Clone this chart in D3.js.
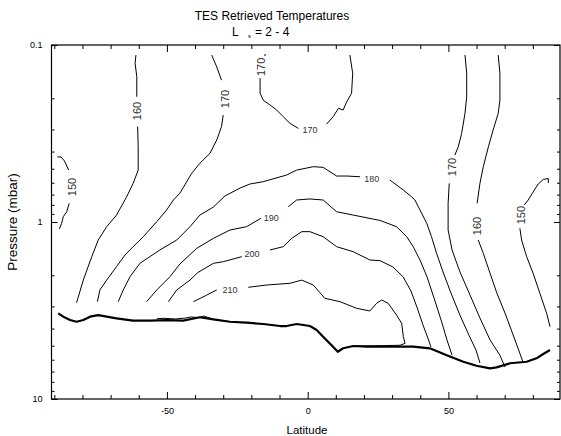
<!DOCTYPE html>
<html><head><meta charset="utf-8">
<script src="https://cdn.jsdelivr.net/npm/d3@7"></script>
<style>
body{margin:0;background:#fff}
svg{display:block}
text{font-family:"Liberation Sans",Arial,Helvetica,sans-serif}
</style>
</head><body>
<svg id="chart" width="561" height="436"></svg>
<script>
// ---- data (latitude in degrees, pressure in mbar) ----
const latMinor = [-90,-80,-70,-60,-40,-30,-20,-10,10,20,30,40,60,70,80,90];
const latMajor = [-50,0,50];
const pMajor = [0.1,1,10];
const pMinor = [0.2,0.3,0.4,0.5,0.6,0.7,0.8,0.9,2,3,4,5,6,7,8,9];

const c150L_a = [[-88.9,0.429],[-87.6,0.429],[-86.4,0.452],[-84.9,0.509]];
const c150L_b = [[-84.7,0.784],[-85.6,0.875],[-86.8,0.933],[-87.4,1.017],[-88.2,1.095]];
const c160L_a = [[-61.0,0.114],[-61.3,0.127],[-60.7,0.151],[-60.7,0.196]];
const c160L_b = [[-60.4,0.289],[-60.2,0.376],[-60.2,0.509],[-62.0,0.605],[-64.3,0.72],[-67.9,0.914],[-71.4,1.063],[-74.4,1.264],[-76.7,1.57],[-79.7,2.13],[-82.1,2.86]];
const c170L_a = [[-34.1,0.114],[-32.3,0.133],[-30.6,0.158]];
const c170L_b = [[-30.0,0.249],[-30.6,0.289],[-32.3,0.344],[-34.7,0.409],[-38.3,0.466],[-41.2,0.531],[-45.4,0.688],[-47.7,0.751],[-50.1,0.855],[-53.6,0.996],[-58.4,1.211],[-62.0,1.379],[-64.9,1.537],[-67.9,1.788],[-71.4,2.13],[-73.8,2.42],[-74.7,2.82]];
const c170T_a = [[-15.1,0.1125],[-15.2,0.1155]];
const c170T_b = [[-16.9,0.154],[-16.9,0.187],[-15.8,0.205],[-13.4,0.218],[-11.0,0.233],[-8.7,0.254],[-6.3,0.277],[-3.3,0.296]];
const c170T_c = [[6.7,0.280],[9.1,0.254],[10.9,0.228],[12.6,0.233],[13.9,0.209],[15.6,0.1875],[16.0,0.1445],[15.0,0.114]];
const c180_a = [[-67.3,2.82],[-65.5,2.42],[-63.1,2.037],[-59.6,1.712],[-52.5,1.439],[-46.5,1.264],[-41.8,1.063],[-38.3,0.914],[-33.5,0.824],[-29.4,0.713],[-24.0,0.643],[-20.5,0.610],[-15.8,0.592],[-7.5,0.543],[-3.9,0.509],[2.0,0.487],[5.5,0.491],[10.3,0.550],[13.9,0.550],[18.6,0.555]];
const c180_b = [[29.2,0.579],[34.0,0.660],[36.9,0.72],[38.1,0.751],[39.9,0.855],[42.3,1.017],[44.0,1.211],[45.8,1.503],[48.1,1.915],[50.9,2.518],[54.1,3.36],[57.3,4.36],[59.8,5.29],[61.2,6.26]];
const c190_a = [[-57.2,2.82],[-53.6,2.42],[-48.9,2.037],[-45.4,1.727],[-39.4,1.408],[-33.5,1.237],[-27.6,1.110],[-21.7,1.063],[-16.6,0.953]];
const c190_b = [[-6.9,0.820],[-3.9,0.751],[0.8,0.741],[5.5,0.751],[10.3,0.875],[16.2,0.914],[25.7,0.980],[31.6,1.063],[35.2,1.211],[37.5,1.379],[39.9,1.639],[42.4,2.04],[44.9,2.69],[47.4,3.58],[49.5,4.64],[51.3,5.66]];
const c200_a = [[-49.5,2.82],[-46.5,2.42],[-41.8,2.13],[-39.0,1.929],[-33.5,1.712],[-30.0,1.676],[-23.4,1.57]];
const c200_b = [[-13.4,1.439],[-8.7,1.379],[-5.7,1.237],[-2.1,1.134],[0.8,1.134],[5.5,1.211],[10.3,1.379],[16.2,1.472],[22.1,1.639],[25.7,1.654],[30.3,1.796],[33.9,2.04],[36.7,2.454],[38.8,3.02],[41.0,3.83],[42.7,4.52],[43.8,5.08]];
const c210_a = [[-40.6,2.82],[-35.9,2.59],[-32.3,2.42]];
const c210_b = [[-21.1,2.338],[-14.6,2.27],[-6.3,2.22],[-2.1,2.13],[2.0,2.27],[6.1,2.698],[11.5,2.82],[17.4,3.073],[22.1,3.183],[24.5,2.88],[26.3,2.758],[28.6,2.88],[31.6,3.36],[33.4,3.736],[34.0,4.446],[34.6,4.85],[32.8,4.97],[25.7,5.0],[16.2,5.02]];
const c210_c = [[-53.6,3.52],[-51.0,3.50],[-47.0,3.53],[-43.5,3.49],[-41.5,3.44],[-38.5,3.47],[-37.0,3.40],[-34.5,3.50]];
const c170R_a = [[55.9,0.114],[56.5,0.1445],[56.5,0.196],[55.9,0.243],[54.7,0.316],[53.5,0.376],[52.3,0.419]];
const c170R_b = [[50.3,0.605],[49.9,0.784],[49.9,1.110],[51.3,1.439],[54.1,1.915],[57.7,2.59],[61.2,3.486],[64.8,4.64],[68.3,5.66],[70.1,6.60]];
const c160R_a = [[67.7,0.114],[68.3,0.1445],[68.3,0.2046],[67.7,0.243],[65.9,0.302],[64.2,0.376],[62.4,0.487],[61.2,0.605],[60.2,0.784]];
const c160R_b = [[60.6,1.264],[62.4,1.503],[64.8,1.949],[67.2,2.518],[70.1,3.267],[72.6,4.18],[74.7,5.15],[76.5,6.18]];
const c150R_a = [[85.5,0.602],[85.5,0.568],[83.7,0.575],[81.9,0.610],[80.1,0.677],[78.1,0.761],[76.9,0.802]];
const c150R_b = [[75.4,1.085],[76.0,1.264],[77.8,1.57],[80.1,1.949],[82.5,2.53],[84.9,3.28],[86.1,3.905]];
const surface = [[-88.6,3.28],[-86.8,3.428],[-84.4,3.58],[-82.1,3.66],[-79.7,3.58],[-77.3,3.428],[-74.4,3.36],[-71.4,3.428],[-67.9,3.50],[-62.0,3.61],[-56.0,3.61],[-50.1,3.58],[-44.2,3.61],[-38.3,3.454],[-33.5,3.546],[-27.6,3.66],[-21.7,3.707],[-15.8,3.77],[-9.8,3.87],[-7.5,3.87],[-3.9,3.77],[0.8,3.87],[3.2,4.075],[5.5,4.446],[8.5,4.97],[10.7,5.41],[12.6,5.17],[16.2,5.02],[21.0,5.065],[29.2,5.065],[37.5,5.065],[43.4,5.17],[49.4,5.66],[55.3,6.16],[60.0,6.49],[64.8,6.71],[67.1,6.63],[71.9,6.28],[77.8,6.16],[81.3,5.89],[83.7,5.57],[86.1,5.29]];

const contourPieces = [c150L_a,c150L_b,c160L_a,c160L_b,c170L_a,c170L_b,c170T_a,c170T_b,c170T_c,
  c180_a,c180_b,c190_a,c190_b,c200_a,c200_b,c210_a,c210_b,c210_c,c170R_a,c170R_b,c160R_a,c160R_b,c150R_a,c150R_b];

const labelText = ["150","160","170","170","170","180","190","200","210","170","160","150"];
const labelLat  = [-83.6,-60.7,-29.4,-16.4,0.8,22.8,-12.9,-19.8,-27.6,51.2,60.1,75.8];
const labelP    = [0.634,0.236,0.202,0.133,0.302,0.572,0.943,1.506,2.42,0.489,1.053,0.914];
const labelVertical = [true,true,true,true,false,false,false,false,false,true,true,true];

// ---- chart ----
const svg = d3.select("#chart");
const L = 51.5, R = 560, T = 45, B = 399;
const x = d3.scaleLinear().domain([-91, 90]).range([51.5, 561]);
const y = d3.scaleLog().domain([0.1, 10]).range([T, B]);

const line = d3.line().x(d => x(d[0])).y(d => y(d[1]));

const g = svg.append("g");
contourPieces.forEach(pc => {
  g.append("path").attr("d", line(pc)).attr("fill","none").attr("stroke","#000").attr("stroke-width",1);
});
g.append("path").attr("d", line(surface)).attr("fill","none").attr("stroke","#000").attr("stroke-width",2.2).attr("stroke-linejoin","round");

labelText.forEach((t,i) => {
  const vx = x(labelLat[i]), vy = y(labelP[i]);
  g.append("text").text(t)
    .attr("transform", `translate(${vx},${vy}) rotate(${labelVertical[i] ? -90 : 0})`)
    .attr("text-anchor","middle").attr("dy","0.35em")
    .attr("font-size", labelVertical[i] ? 11 : 9)
    .attr("fill","#333");
});

// axes
function styleAxis(sel){
  sel.select(".domain").remove();
  sel.selectAll("line").attr("stroke","#000");
  sel.selectAll("text").attr("fill","#000").attr("font-family",'"Liberation Sans",Arial,sans-serif');
}
const fmt = d => String(d);
svg.append("g").attr("transform",`translate(0,${B})`)
  .call(d3.axisBottom(x).tickValues(latMinor).tickSize(-4).tickFormat("")).call(styleAxis);
svg.append("g").attr("transform",`translate(0,${B})`)
  .call(d3.axisBottom(x).tickValues(latMajor).tickSize(-7).tickPadding(9).tickFormat(fmt))
  .call(styleAxis).selectAll("text").attr("font-size",9);
svg.append("g").attr("transform",`translate(0,${T})`)
  .call(d3.axisTop(x).tickValues(latMinor).tickSize(-4).tickFormat("")).call(styleAxis);
svg.append("g").attr("transform",`translate(0,${T})`)
  .call(d3.axisTop(x).tickValues(latMajor).tickSize(-7).tickFormat("")).call(styleAxis);
svg.append("g").attr("transform",`translate(${L},0)`)
  .call(d3.axisLeft(y).tickValues(pMinor).tickSize(-3).tickFormat("")).call(styleAxis);
svg.append("g").attr("transform",`translate(${L},0)`)
  .call(d3.axisLeft(y).tickValues(pMajor).tickSize(-6).tickPadding(9).tickFormat(fmt))
  .call(styleAxis).selectAll("text").attr("font-size",9);
svg.append("g").attr("transform",`translate(${R},0)`)
  .call(d3.axisRight(y).tickValues(pMinor).tickSize(-3).tickFormat("")).call(styleAxis);
svg.append("g").attr("transform",`translate(${R},0)`)
  .call(d3.axisRight(y).tickValues(pMajor).tickSize(-6).tickFormat("")).call(styleAxis);

svg.append("rect").attr("x",L).attr("y",T).attr("width",R-L).attr("height",B-T)
  .attr("fill","none").attr("stroke","#000").attr("stroke-width",1.2);

// titles
svg.append("text").attr("x",272).attr("y",20).attr("text-anchor","middle")
  .attr("font-size",12).text("TES Retrieved Temperatures");
const sub = svg.append("text").attr("x",232).attr("y",36).attr("font-size",12);
sub.append("tspan").text("L");
sub.append("tspan").attr("x",248).attr("y",38).attr("font-size",6).text("s");
sub.append("tspan").attr("x",255).attr("y",36).text("= 2 - 4");
svg.append("text").attr("x",307).attr("y",434).attr("text-anchor","middle")
  .attr("font-size",11.5).text("Latitude");
svg.append("text").attr("transform","translate(17,222) rotate(-90)").attr("text-anchor","middle")
  .attr("font-size",13.5).text("Pressure (mbar)");
</script>
</body></html>
